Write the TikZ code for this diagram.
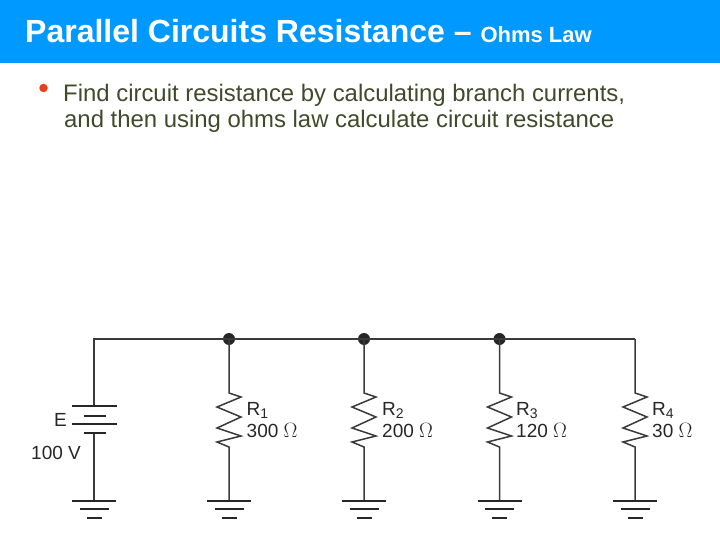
\documentclass[tikz,border=0pt]{standalone}
\usepackage{fontspec}
\setmainfont{Liberation Sans}
\definecolor{banner}{HTML}{0099FF}
\definecolor{bodytxt}{HTML}{3F4A2A}
\definecolor{bul}{HTML}{E8401A}
\definecolor{wire}{HTML}{3A3A3A}
\tikzset{
  wirepath/.style={draw=wire,line width=1.5pt},
  plate/.style={draw=black!85,line width=1.7pt},
  dotnode/.style={circle,fill=black!85,inner sep=0pt,minimum size=12pt},
  lab/.style={inner sep=0pt,anchor=base west,text=black!85,font=\fontsize{19}{21}\selectfont},
  bodyt/.style={inner sep=0pt,anchor=base west,text=bodytxt,font=\fontsize{23.9}{26}\selectfont},
}
\begin{document}
\begin{tikzpicture}[x=1pt,y=-1pt]
\useasboundingbox (0,0) rectangle (720,540);
\fill[banner] (0,0) rectangle (720,63);
\node[inner sep=0pt,anchor=base west,text=white,font=\bfseries\fontsize{32}{34}\selectfont] (title) at (25,43) {Parallel Circuits Resistance -- {\fontsize{22}{24}\selectfont Ohms Law}};
\node[circle,fill=bul,inner sep=0pt,minimum size=8.5pt] (bullet) at (43.5,88) {};
\node[bodyt] (l1) at (63,101.5) {Find circuit resistance by calculating branch currents,};
\node[bodyt] (l2) at (64,127.5) {and then using ohms law calculate circuit resistance};
% top wire
\coordinate (tl) at (94,339);
\coordinate (tr) at (635,339);
\node[dotnode] (d1) at (229,339) {};
\node[dotnode] (d2) at (364,339) {};
\node[dotnode] (d3) at (499.5,339) {};
% battery
\coordinate (bt) at (94,406);
\coordinate (bb) at (94,433);
\coordinate (g0) at (94,501);
\draw[wirepath] (g0) -- (bb) (bt) -- (tl) -- (tr);
\draw[plate] (72,406) -- (117,406) (84,416) -- (106,416) (72,424) -- (117,424) (84,433) -- (106,433);
\node[lab] (E) at (54,426) {E};
\node[lab] (V) at (31,459) {100 V};
% resistors
\foreach \n/\x/\s/\v/\lx in {1/229/1/300/246.5, 2/364/2/200/382, 3/499.5/3/120/516, 4/635/4/30/652}{
  \coordinate (rt\n) at (\x,393);
  \coordinate (rb\n) at (\x,447);
  \coordinate (g\n) at (\x,501);
  \draw[wirepath,line join=miter] (\x,339) -- (rt\n) -- ++(12,4) -- ++(-24,10) -- ++(24,10) -- ++(-24,11) -- ++(24,8) -- ++(-24,6) -- (rb\n) -- (g\n);
  \node[lab] (rn\n) at (\lx,415.5) {R\raisebox{-2.5pt}{\fontsize{14}{15}\selectfont\s}};
  \node[lab] (rv\n) at (\lx,437.5) {\v\ {\fontsize{22}{24}\selectfont$\Omega$}};
}
% grounds
\foreach \n/\x in {0/94,1/229,2/364,3/499.5,4/635}{
  \draw[plate] (\x-22,501) -- (\x+22,501) (\x-14.5,509) -- (\x+14.5,509) (\x-7.5,518) -- (\x+7.5,518);
}
\end{tikzpicture}
\end{document}
